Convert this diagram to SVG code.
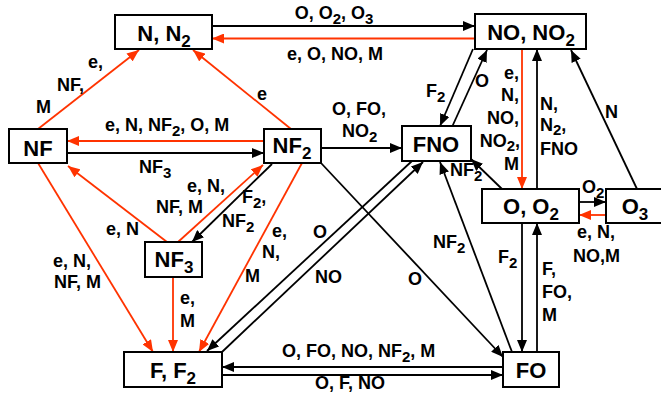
<svg xmlns="http://www.w3.org/2000/svg" width="661" height="393" viewBox="0 0 661 393">
<defs>
<style>
text{font-family:"Liberation Sans",Arial,sans-serif;font-weight:bold;fill:#000}
.n{font-size:22px;text-anchor:middle}
.l{font-size:18px}
.ns{font-size:17px}
.ls{font-size:15px}
.r{text-anchor:end}
rect{fill:#fff;stroke:#000;stroke-width:2}
.k{stroke:#000;stroke-width:1.8;fill:none}
.rd{stroke:#ff3300;stroke-width:1.8;fill:none}
</style>
<marker id="ak" viewBox="0 0 12 10" refX="12" refY="5" markerWidth="12" markerHeight="10" markerUnits="userSpaceOnUse" orient="auto"><path d="M0,0 L12,5 L0,10 z" fill="#000"/></marker>
<marker id="ar" viewBox="0 0 12 10" refX="12" refY="5" markerWidth="12" markerHeight="10" markerUnits="userSpaceOnUse" orient="auto"><path d="M0,0 L12,5 L0,10 z" fill="#ff3300"/></marker>
</defs>
<rect x="0" y="0" width="661" height="393" style="fill:#fff;stroke:none"/>
<g id="connectors">
<path class="k" marker-end="url(#ak)" d="M212,26 L475,26"/>
<path class="rd" marker-end="url(#ar)" d="M475,38.5 L212,38.5"/>
<path class="rd" marker-end="url(#ar)" d="M38,129 L139,50"/>
<path class="rd" marker-end="url(#ar)" d="M291,129 L193,50"/>
<path class="rd" marker-end="url(#ar)" d="M264,141 L67,141"/>
<path class="k" marker-end="url(#ak)" d="M67,153 L264,153"/>
<path class="rd" marker-end="url(#ar)" d="M167,242 L68,166"/>
<path class="rd" marker-end="url(#ar)" d="M178,242 L263,165"/>
<path class="k" marker-end="url(#ak)" d="M272,164 L192,242"/>
<path class="rd" marker-end="url(#ar)" d="M38,163 L153,352"/>
<path class="rd" marker-end="url(#ar)" d="M173,277 L173,352"/>
<path class="rd" marker-end="url(#ar)" d="M302,163 L199,352"/>
<path class="k" marker-end="url(#ak)" d="M412,161 L207,351"/>
<path class="k" marker-end="url(#ak)" d="M222,352 L423,162"/>
<path class="k" marker-end="url(#ak)" d="M321,163 L503,357"/>
<path class="k" marker-end="url(#ak)" d="M512,352 L440,162"/>
<path class="k" marker-end="url(#ak)" d="M502,189 L471,159"/>
<path class="k" marker-end="url(#ak)" d="M473,49 L440,126"/>
<path class="k" marker-end="url(#ak)" d="M452,127 L487,50"/>
<path class="rd" marker-end="url(#ar)" d="M522,49 L522,189"/>
<path class="k" marker-end="url(#ak)" d="M537,189 L537,49"/>
<path class="k" marker-end="url(#ak)" d="M637,189 L571,50"/>
<path class="k" marker-end="url(#ak)" d="M579,202 L606,202"/>
<path class="rd" marker-end="url(#ar)" d="M606,215 L579,215"/>
<path class="k" marker-end="url(#ak)" d="M522,223 L522,352"/>
<path class="k" marker-end="url(#ak)" d="M537,352 L537,223"/>
<path class="k" marker-end="url(#ak)" d="M503,367 L222,367"/>
<path class="k" marker-end="url(#ak)" d="M222,375 L503,375"/>
<path class="k" marker-end="url(#ak)" d="M321,148 L402,148"/>
</g>
<g id="labels">
<text class="l" x="334" y="19" text-anchor="middle">O, O<tspan class="ls" dy="5">2</tspan><tspan dy="-5">, O</tspan><tspan class="ls" dy="5">3</tspan></text>
<text class="l" x="287" y="60">e, O, NO, M</text>
<text class="l" x="88" y="68">e,</text>
<text class="l" x="57" y="91">NF,</text>
<text class="l" x="36" y="113">M</text>
<text class="l" x="257" y="100">e</text>
<text class="l" x="105" y="131">e, N, NF<tspan class="ls" dy="5">2</tspan><tspan dy="-5">, O, M</tspan></text>
<text class="l" x="139" y="173">NF<tspan class="ls" dy="5">3</tspan></text>
<text class="l" x="332" y="115">O, FO,</text>
<text class="l" x="342" y="137">NO<tspan class="ls" dy="5">2</tspan></text>
<text class="l" x="187" y="192">e, N,</text>
<text class="l" x="156" y="213">NF, M</text>
<text class="l" x="106" y="235">e, N</text>
<text class="l" x="242" y="203">F<tspan class="ls" dy="5">2</tspan><tspan dy="-5">,</tspan></text>
<text class="l" x="222" y="227">NF<tspan class="ls" dy="5">2</tspan></text>
<text class="l" x="272" y="237">e,</text>
<text class="l" x="262" y="258">N,</text>
<text class="l" x="245" y="282">M</text>
<text class="l" x="53" y="267">e, N,</text>
<text class="l" x="54" y="288">NF, M</text>
<text class="l" x="180" y="304">e,</text>
<text class="l" x="180" y="327">M</text>
<text class="l" x="313" y="238">O</text>
<text class="l" x="315" y="283">NO</text>
<text class="l" x="408" y="285">O</text>
<text class="l" x="433" y="248">NF<tspan class="ls" dy="5">2</tspan></text>
<text class="l" x="450" y="176">NF<tspan class="ls" dy="5">2</tspan></text>
<text class="l" x="426" y="97">F<tspan class="ls" dy="5">2</tspan></text>
<text class="l" x="475" y="87">O</text>
<text class="l r" x="519" y="79">e,</text>
<text class="l r" x="519" y="101">N,</text>
<text class="l r" x="519" y="124">NO,</text>
<text class="l r" x="520" y="147">NO<tspan class="ls" dy="4">2</tspan><tspan dy="-4">,</tspan></text>
<text class="l r" x="519" y="170">M</text>
<text class="l" x="540" y="110">N,</text>
<text class="l" x="540" y="131">N<tspan class="ls" dy="4">2</tspan><tspan dy="-4">,</tspan></text>
<text class="l" x="540" y="155">FNO</text>
<text class="l" x="605" y="118">N</text>
<text class="l" x="582" y="193">O<tspan class="ls" dy="5">2</tspan></text>
<text class="l" x="577" y="238">e, N,</text>
<text class="l" x="573" y="262">NO,M</text>
<text class="l" x="498" y="263">F<tspan class="ls" dy="5">2</tspan></text>
<text class="l" x="542" y="275">F,</text>
<text class="l" x="542" y="298">FO,</text>
<text class="l" x="542" y="321">M</text>
<text class="l" x="282" y="357">O, FO, NO, NF<tspan class="ls" dy="5">2</tspan><tspan dy="-5">, M</tspan></text>
<text class="l" x="315" y="389">O, F, NO</text>
</g>
<g id="node-N-N2"><rect x="115" y="15" width="97" height="34"/><text class="n" x="164" y="41">N, N<tspan class="ns" dy="6">2</tspan></text></g>
<g id="node-NO-NO2"><rect x="475" y="14" width="111" height="35"/><text class="n" x="531" y="40">NO, NO<tspan class="ns" dy="6">2</tspan></text></g>
<g id="node-NF"><rect x="9" y="129" width="58" height="34"/><text class="n" x="38" y="156">NF</text></g>
<g id="node-NF2"><rect x="264" y="129" width="57" height="34"/><text class="n" x="292" y="153">NF<tspan class="ns" dy="6">2</tspan></text></g>
<g id="node-FNO"><rect x="402" y="126" width="69" height="35"/><text class="n" x="436" y="152">FNO</text></g>
<g id="node-O-O2"><rect x="482" y="189" width="97" height="34"/><text class="n" x="531" y="214">O, O<tspan class="ns" dy="6">2</tspan></text></g>
<g id="node-O3"><rect x="606" y="189" width="62" height="34"/><text class="n" x="635" y="214">O<tspan class="ns" dy="6">3</tspan></text></g>
<g id="node-NF3"><rect x="145" y="242" width="57" height="35"/><text class="n" x="174" y="267">NF<tspan class="ns" dy="6">3</tspan></text></g>
<g id="node-F-F2"><rect x="124" y="352" width="98" height="35"/><text class="n" x="173" y="378">F, F<tspan class="ns" dy="6">2</tspan></text></g>
<g id="node-FO"><rect x="503" y="352" width="56" height="35"/><text class="n" x="531" y="378">FO</text></g>
</svg>
